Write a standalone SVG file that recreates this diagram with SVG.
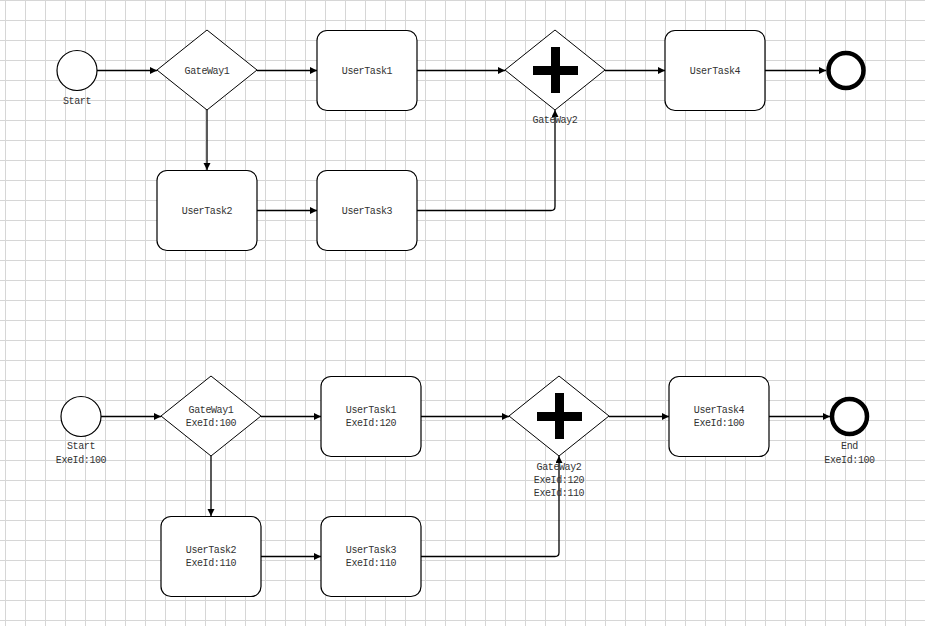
<svg xmlns="http://www.w3.org/2000/svg" width="925" height="626" viewBox="0 0 925 626">
<style>
.node{fill:#fff;stroke:#000;stroke-width:1.2}
.gw{fill:#fff;stroke:#000;stroke-width:1}
.end{fill:#fff;stroke:#000;stroke-width:4.5}
.plus{fill:#000}
.edge{fill:none;stroke:#000;stroke-width:1.3}
text{font-family:"Liberation Mono","DejaVu Sans Mono",monospace;font-size:10px;fill:#333;text-anchor:middle;letter-spacing:-0.4px}
</style>
<defs>
<pattern id="grid" width="20" height="20" patternUnits="userSpaceOnUse" x="5" y="0">
<path d="M0,0.5 H20 M0.5,0 V20" fill="none" stroke="#d6d6d6" stroke-width="1"/>
</pattern>
<marker id="arr" markerWidth="8" markerHeight="8" refX="7" refY="3.5" orient="auto" markerUnits="userSpaceOnUse">
<path d="M0,0 L7,3.5 L0,7 z" fill="#000"/>
</marker>
</defs>
<rect width="925" height="626" fill="#fff"/>
<rect width="925" height="626" fill="url(#grid)"/>

<g id="edges">
<path class="edge" d="M97,70.5 H157" marker-end="url(#arr)"/>
<path class="edge" d="M257,70.5 H317" marker-end="url(#arr)"/>
<path class="edge" d="M417,70.5 H505" marker-end="url(#arr)"/>
<path class="edge" d="M605,70.5 H665" marker-end="url(#arr)"/>
<path class="edge" d="M765,70.5 H826" marker-end="url(#arr)"/>
<path class="edge" d="M207,110 V170" marker-end="url(#arr)"/>
<path class="edge" d="M257,210.5 H317" marker-end="url(#arr)"/>
<path class="edge" d="M417,210.5 H551 Q555,210.5 555,206.5 V110" marker-end="url(#arr)"/>

<path class="edge" d="M101,416.5 H161" marker-end="url(#arr)"/>
<path class="edge" d="M261,416.5 H321" marker-end="url(#arr)"/>
<path class="edge" d="M421,416.5 H509" marker-end="url(#arr)"/>
<path class="edge" d="M609,416.5 H669" marker-end="url(#arr)"/>
<path class="edge" d="M769,416.5 H830" marker-end="url(#arr)"/>
<path class="edge" d="M211,456 V516" marker-end="url(#arr)"/>
<path class="edge" d="M261,556.5 H321" marker-end="url(#arr)"/>
<path class="edge" d="M421,556.5 H555 Q559,556.5 559,552.5 V456" marker-end="url(#arr)"/>
</g>

<!-- Top diagram -->
<g id="start1">
<circle class="node" cx="77" cy="70.5" r="20"/>
<text x="77" y="103.5">Start</text>
</g>
<g id="gateway1a">
<polygon class="gw" points="207,30 257,70 207,110 157,70"/>
<text x="207" y="73.5">GateWay1</text>
</g>
<g id="usertask1a">
<rect class="node" x="317" y="30.5" width="100" height="80" rx="10"/>
<text x="367" y="73.5">UserTask1</text>
</g>
<g id="usertask2a">
<rect class="node" x="157" y="170.5" width="100" height="80" rx="10"/>
<text x="207" y="213.5">UserTask2</text>
</g>
<g id="usertask3a">
<rect class="node" x="317" y="170.5" width="100" height="80" rx="10"/>
<text x="367" y="213.5">UserTask3</text>
</g>
<g id="gateway2a">
<polygon class="gw" points="555,30 605,70 555,110 505,70"/>
<rect class="plus" x="533" y="66" width="45" height="9"/>
<rect class="plus" x="551" y="47" width="9" height="46"/>
<text x="555" y="123">GateWay2</text>
</g>
<g id="usertask4a">
<rect class="node" x="665" y="30.5" width="100" height="80" rx="10"/>
<text x="715" y="73.5">UserTask4</text>
</g>
<g id="end1">
<circle class="end" cx="846" cy="70.5" r="17.5"/>
</g>

<!-- Bottom diagram -->
<g id="start2">
<circle class="node" cx="81" cy="416.5" r="20"/>
<text x="81" y="449">Start</text>
<text x="81" y="462.5">ExeId:100</text>
</g>
<g id="gateway1b">
<polygon class="gw" points="211,376 261,416 211,456 161,416"/>
<text x="211" y="412.5">GateWay1</text>
<text x="211" y="426">ExeId:100</text>
</g>
<g id="usertask1b">
<rect class="node" x="321" y="376.5" width="100" height="80" rx="10"/>
<text x="371" y="412.5">UserTask1</text>
<text x="371" y="426">ExeId:120</text>
</g>
<g id="usertask2b">
<rect class="node" x="161" y="516.5" width="100" height="80" rx="10"/>
<text x="211" y="552.5">UserTask2</text>
<text x="211" y="566">ExeId:110</text>
</g>
<g id="usertask3b">
<rect class="node" x="321" y="516.5" width="100" height="80" rx="10"/>
<text x="371" y="552.5">UserTask3</text>
<text x="371" y="566">ExeId:110</text>
</g>
<g id="gateway2b">
<polygon class="gw" points="559,376 609,416 559,456 509,416"/>
<rect class="plus" x="537" y="412" width="45" height="9"/>
<rect class="plus" x="555" y="393" width="9" height="46"/>
<text x="559" y="469.5">GateWay2</text>
<text x="559" y="483">ExeId:120</text>
<text x="559" y="496">ExeId:110</text>
</g>
<g id="usertask4b">
<rect class="node" x="669" y="376.5" width="100" height="80" rx="10"/>
<text x="719" y="412.5">UserTask4</text>
<text x="719" y="426">ExeId:100</text>
</g>
<g id="end2">
<circle class="end" cx="849.5" cy="416.5" r="17.5"/>
<text x="849.5" y="449">End</text>
<text x="849.5" y="462.5">ExeId:100</text>
</g>
</svg>
